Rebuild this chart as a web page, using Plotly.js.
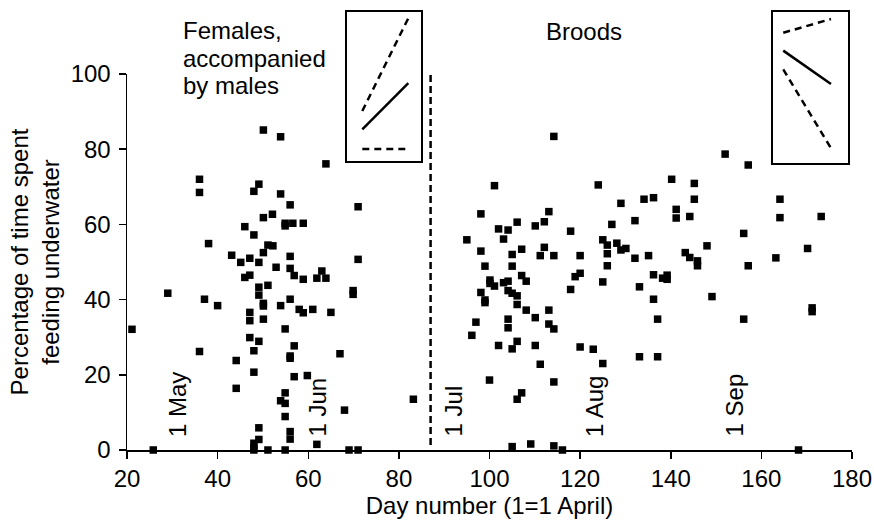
<!DOCTYPE html>
<html>
<head>
<meta charset="utf-8">
<script src="https://cdn.plot.ly/plotly-3.0.1.min.js"></script>
<style>html,body{margin:0;padding:0;background:#fff;}#chart{width:874px;height:525px;}</style>
</head>
<body>
<div id="chart"></div>
<script>
// Females accompanied by males (day number, % time feeding underwater)
const femDay = [50.1,53.9,36.0,36.0,49.1,48.0,53.9,56.0,50.1,52.1,46.0,54.9,54.9,56.6,58.9,48.0,38.0,51.1,52.2,50.1,
  43.1,56.0,45.1,47.1,49.1,52.9,56.0,56.9,58.9,46.0,47.1,49.1,51.1,49.1,29.0,37.1,40.0,50.1,50.1,53.9,
  56.0,58.0,58.9,47.1,47.1,50.1,21.1,54.9,47.1,49.1,36.0,48.0,56.9,56.0,56.0,44.1,48.0,56.9,59.8,44.1,
  54.9,53.9,54.9,54.9,49.1,56.0,49.1,56.0,48.0,48.0,48.0,51.1,54.9,25.8,61.9,71.0,61.9,63.0,63.9,69.9,
  69.9,61.0,65.0,67.0,68.0,83.2,69.0,71.0,63.9,71.0];
const femPct = [85.1,83.3,72.0,68.5,70.7,68.8,68.1,65.2,61.8,62.7,59.4,60.3,59.6,60.3,60.3,57.2,54.9,54.5,54.3,52.5,
  51.8,51.5,49.9,51.0,49.9,48.6,48.3,46.4,45.4,45.9,46.5,43.3,43.8,41.2,41.7,40.1,38.4,39.0,38.3,38.4,
  40.1,37.4,36.5,36.6,34.4,34.8,32.1,32.2,29.9,28.9,26.2,26.4,27.7,25.0,24.4,23.8,20.7,19.5,19.8,16.4,
  15.2,13.1,12.4,8.9,5.9,4.9,2.8,2.9,1.8,0.7,0,0,0,0,1.5,50.7,45.7,47.6,45.7,42.4,
  41.4,37.4,36.6,25.6,10.6,13.5,0,0,76.1,64.7];

// Broods
const broodDay = [114.2,101.1,124.0,98.1,113.1,102.0,104.1,106.1,110.1,112.1,117.9,95.0,103.1,98.1,105.0,107.1,112.1,111.2,114.2,120.0,
  99.0,105.0,107.1,108.1,100.1,100.1,101.1,103.1,104.1,98.1,104.1,105.0,106.1,99.0,99.0,106.1,108.1,113.1,117.9,118.9,
  120.0,110.1,97.0,104.1,104.1,113.1,114.2,96.1,102.0,106.1,105.0,110.1,120.0,122.9,111.2,100.0,114.2,107.1,106.1,105.0,
  109.1,114.2,116.1,152.0,157.1,140.2,145.2,129.0,134.1,136.2,145.2,141.2,141.2,144.2,164.1,164.1,173.2,127.0,132.1,156.1,
  125.0,126.0,128.1,129.0,130.1,126.0,132.1,135.1,143.2,144.2,145.9,148.0,170.2,163.2,126.0,145.9,125.0,133.1,136.2,138.2,
  139.2,139.2,157.1,136.2,149.1,137.1,156.1,171.2,171.2,125.0,133.1,137.1,168.2];
const broodPct = [83.4,70.3,70.5,62.8,63.4,58.8,58.5,60.6,59.6,60.7,58.2,55.9,56.1,52.9,52.0,53.4,53.9,51.7,51.7,51.7,
  48.9,48.9,46.4,44.9,45.2,44.3,43.6,44.5,44.9,41.9,42.4,41.7,41.0,39.9,39.2,38.7,37.2,37.2,42.7,46.1,
  47.0,35.2,34.0,34.8,32.5,33.5,32.2,30.5,27.8,28.9,26.9,27.8,27.4,26.8,22.8,18.6,18.1,15.2,13.5,0.9,
  1.6,1.1,0,78.7,75.8,72.0,70.9,65.6,66.7,67.1,66.7,64.0,61.7,62.1,66.7,61.8,62.1,60.0,61.0,57.6,
  55.9,54.5,55.0,53.2,53.6,52.2,51.0,51.7,52.5,51.2,50.3,54.3,53.6,51.1,49.0,49.0,44.7,43.4,46.6,45.7,
  46.5,45.4,49.0,40.1,40.8,34.8,34.8,37.8,36.8,23.0,24.8,24.8,0];

// Month markers on the day axis
const monthDays = [31, 62, 92, 123, 154];
const monthLabels = ['1 May', '1 Jun', '1 Jul', '1 Aug', '1 Sep'];

// Separator between the two periods
const sepDay = [87, 87];
const sepPct = [1.3, 100];

// Axis ticks
const xTicks = [20, 40, 60, 80, 100, 120, 140, 160, 180];
const yTicks = [0, 20, 40, 60, 80, 100];

// Panel labels
const femaleLines = ['Females,', 'accompanied', 'by males'];
const broodLabel = 'Broods';

// Schematic insets (relative 0-1 box coordinates)
const leftInsetX = [0.204, 0.831];
const leftUpperDashY = [0.336, 0.960];
const leftSolidY = [0.213, 0.523];
const leftLowerDashY = [0.081, 0.081];
const rightInsetX = [0.133, 0.769];
const rightUpperDashY = [0.864, 0.955];
const rightSolidY = [0.745, 0.523];
const rightLowerDashY = [0.621, 0.096];

const FONT = 'Liberation Sans, Arial, sans-serif';
const FS = 24;

const traces = [
  {x: femDay, y: femPct, type: 'scatter', mode: 'markers', cliponaxis: false,
   marker: {symbol: 'square', size: 7.5, color: '#000'}, name: 'Females', hoverinfo: 'x+y'},
  {x: broodDay, y: broodPct, type: 'scatter', mode: 'markers', cliponaxis: false,
   marker: {symbol: 'square', size: 7.5, color: '#000'}, name: 'Broods', hoverinfo: 'x+y'},
  {x: sepDay, y: sepPct, type: 'scatter', mode: 'lines', cliponaxis: false,
   line: {color: '#000', width: 2.5, dash: '7px,4px'}, hoverinfo: 'skip'},
  {x: leftInsetX, y: leftUpperDashY, xaxis: 'x2', yaxis: 'y2', type: 'scatter', mode: 'lines',
   line: {color: '#000', width: 2.5, dash: '7px,5px'}, hoverinfo: 'skip'},
  {x: leftInsetX, y: leftSolidY, xaxis: 'x2', yaxis: 'y2', type: 'scatter', mode: 'lines',
   line: {color: '#000', width: 2.5}, hoverinfo: 'skip'},
  {x: leftInsetX, y: leftLowerDashY, xaxis: 'x2', yaxis: 'y2', type: 'scatter', mode: 'lines',
   line: {color: '#000', width: 2.5, dash: '7px,5px'}, hoverinfo: 'skip'},
  {x: rightInsetX, y: rightUpperDashY, xaxis: 'x3', yaxis: 'y3', type: 'scatter', mode: 'lines',
   line: {color: '#000', width: 2.5, dash: '7px,5px'}, hoverinfo: 'skip'},
  {x: rightInsetX, y: rightSolidY, xaxis: 'x3', yaxis: 'y3', type: 'scatter', mode: 'lines',
   line: {color: '#000', width: 2.5}, hoverinfo: 'skip'},
  {x: rightInsetX, y: rightLowerDashY, xaxis: 'x3', yaxis: 'y3', type: 'scatter', mode: 'lines',
   line: {color: '#000', width: 2.5, dash: '7px,5px'}, hoverinfo: 'skip'}
];

const insetAxis = (dom, anchor) => ({domain: dom, anchor: anchor, range: [0, 1], showline: true, mirror: true,
  linewidth: 2, linecolor: '#000', ticks: '', showticklabels: false, showgrid: false, zeroline: false, fixedrange: true});

const txtFont = {family: FONT, size: FS, color: '#000'};
const annotations = monthDays.map((d, i) => ({
  x: d, y: 3, xref: 'x', yref: 'y', text: monthLabels[i], textangle: -90, showarrow: false,
  xanchor: 'center', yanchor: 'bottom', font: txtFont
}));
const femaleLineY = [0.9545, 0.8909, 0.8273];
femaleLines.forEach((t, i) => annotations.push({x: 0.0745, y: femaleLineY[i], xref: 'paper', yref: 'paper',
  xanchor: 'left', yanchor: 'middle', align: 'left', text: t, showarrow: false, font: txtFont}));
annotations.push({x: 0.6297, y: 0.952, xref: 'paper', yref: 'paper', xanchor: 'center', yanchor: 'middle',
  text: broodLabel, showarrow: false, font: txtFont});

const layout = {
  width: 874, height: 525,
  margin: {l: 127, r: 22, t: 10, b: 75},
  paper_bgcolor: '#fff', plot_bgcolor: 'rgba(0,0,0,0)',
  showlegend: false,
  font: txtFont,
  xaxis: {domain: [0, 1], anchor: 'y', range: [20, 180], tickvals: xTicks, ticks: 'outside', ticklen: 7, tickwidth: 1.5,
    tickcolor: '#000', showline: true, linewidth: 1.5, linecolor: '#000', showgrid: false, zeroline: false,
    tickfont: txtFont,
    title: {text: 'Day number (1=1 April)', font: txtFont, standoff: 4}},
  yaxis: {domain: [0, 376 / 440], anchor: 'x', range: [0, 100], tickvals: yTicks, ticks: 'outside', ticklen: 7, tickwidth: 1.5,
    tickcolor: '#000', showline: true, linewidth: 1.5, linecolor: '#000', showgrid: false, zeroline: false,
    tickfont: txtFont, ticklabelstandoff: 3,
    title: {text: 'Percentage of time spent<br>feeding underwater', font: txtFont, standoff: 4}},
  xaxis4: {overlaying: 'x', anchor: 'y', range: [20, 180], tickvals: monthDays, ticks: 'inside', ticklen: 5, tickwidth: 1.5,
    tickcolor: '#000', showticklabels: false, showline: false, showgrid: false, zeroline: false},
  xaxis5: {overlaying: 'x', anchor: 'y', range: [20, 180], tickvals: monthDays, ticks: 'outside', ticklen: 4, tickwidth: 1.5,
    tickcolor: '#000', showticklabels: false, showline: false, showgrid: false, zeroline: false},
  xaxis2: insetAxis([0.3039, 0.4051], 'y2'),
  yaxis2: insetAxis([0.6568, 0.9948], 'x2'),
  xaxis3: insetAxis([0.8914, 0.9949], 'y3'),
  yaxis3: insetAxis([0.653, 0.9948], 'x3'),
  annotations: annotations
};

Plotly.newPlot('chart', traces, layout, {displayModeBar: false, staticPlot: true});
</script>
</body>
</html>
